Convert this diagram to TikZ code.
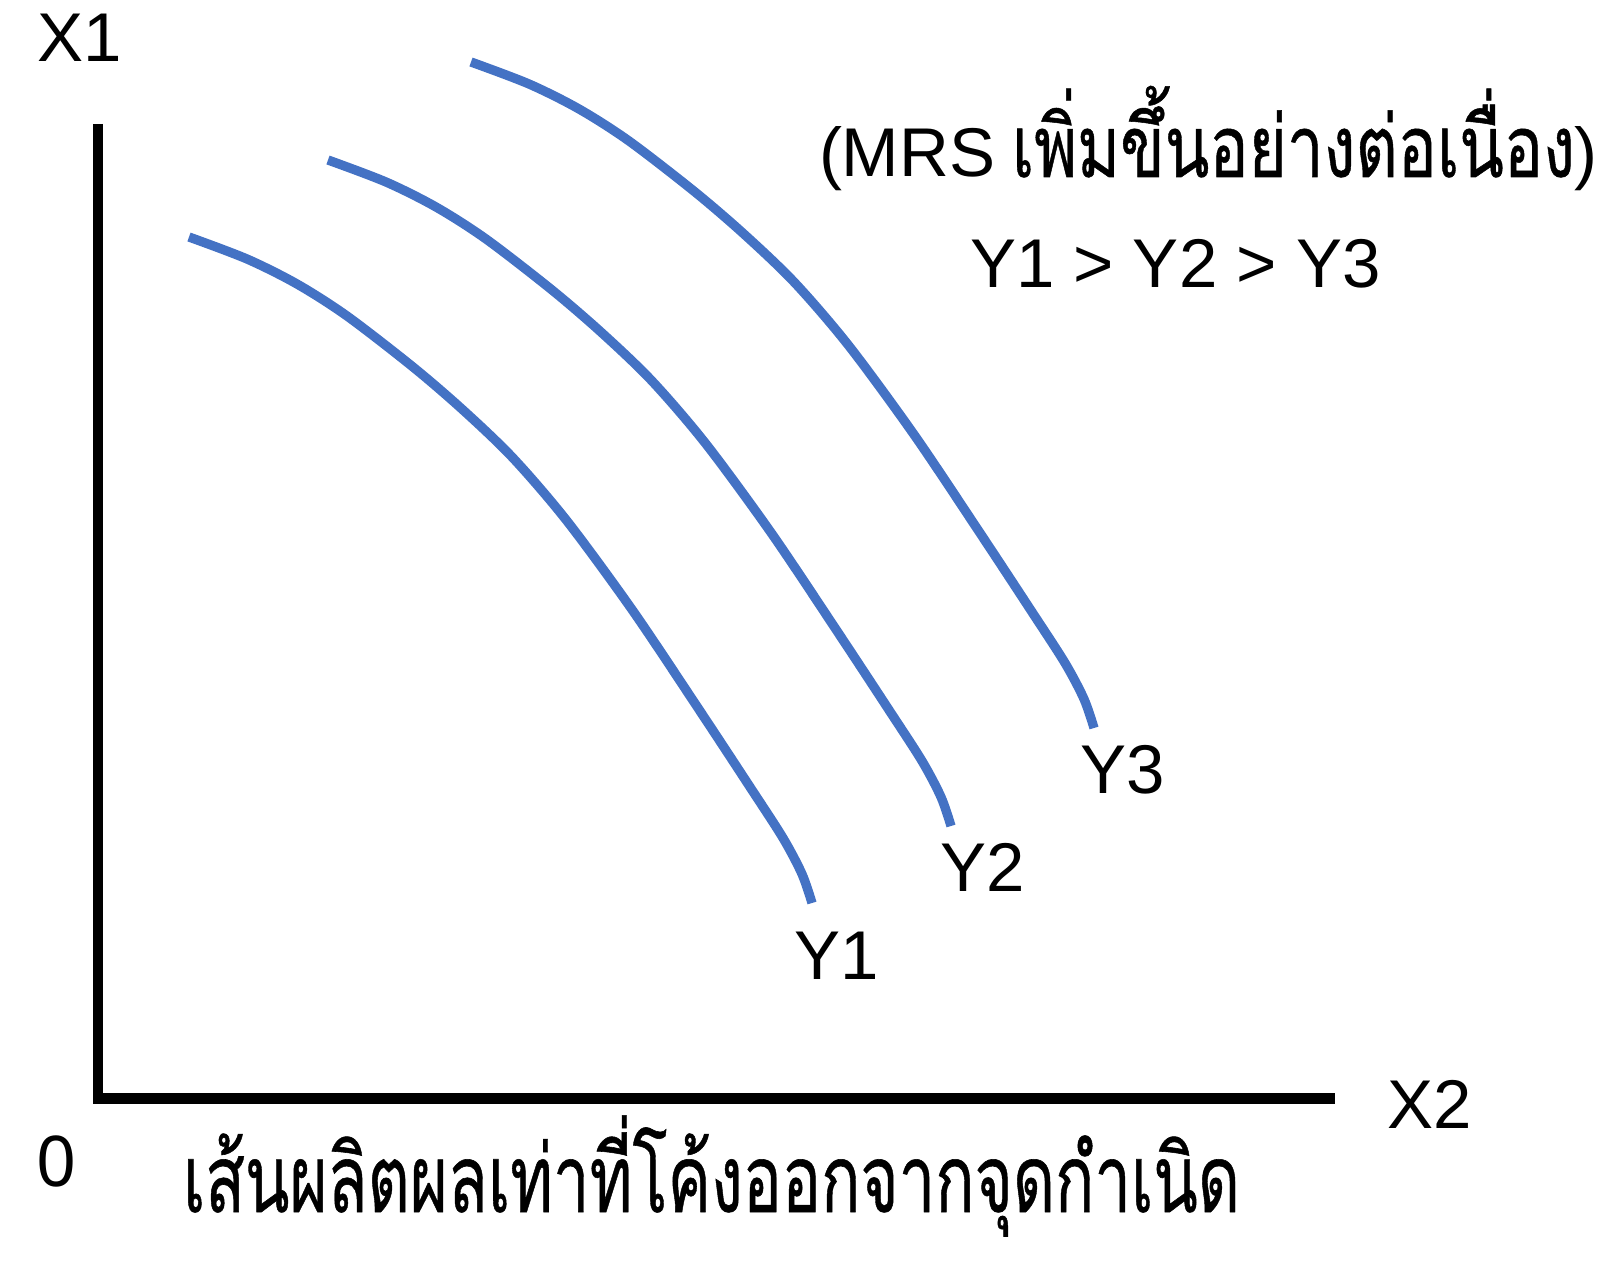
\documentclass[tikz,border=0pt]{standalone}
\usepackage{fontspec}
\usepackage{graphicx}
\setmainfont{Liberation Sans}
\newfontfamily\thai[Script=Thai,FakeBold=0.6]{Loma}
\newfontfamily\digitfont{Noto Sans}
\definecolor{curveblue}{HTML}{4472C4}
\begin{document}
\begin{tikzpicture}[x=1pt,y=-1pt,
  axisline/.style={line width=10.5pt,black,line join=miter},
  curvestyle/.style={line width=9.3pt,curveblue,line cap=butt},
  lbl/.style={anchor=base west,inner sep=0pt,outer sep=0pt,font=\fontsize{69}{80}\selectfont},
  thailbl/.style={anchor=base west,inner sep=0pt,outer sep=0pt}]
\useasboundingbox (0,0) rectangle (1598,1268);
% axes
\coordinate (top) at (98,124);
\coordinate (origin) at (98,1098.5);
\coordinate (right) at (1335,1098.5);
\draw[axisline] (top) -- (origin) -- (right);
% curves (same shape, shifted)
\draw[curvestyle] plot[smooth] coordinates {(189,237) (247,259) (297,284) (347,316) (413,367) (463,410) (513,458) (567,521) (633,611) (700,711) (750,787) (783,838) (802,874) (812,903)};
\begin{scope}[shift={(139,-77)}]
\draw[curvestyle] plot[smooth] coordinates {(189,237) (247,259) (297,284) (347,316) (413,367) (463,410) (513,458) (567,521) (633,611) (700,711) (750,787) (783,838) (802,874) (812,903)};
\end{scope}
\begin{scope}[shift={(282,-175)}]
\draw[curvestyle] plot[smooth] coordinates {(189,237) (247,259) (297,284) (347,316) (413,367) (463,410) (513,458) (567,521) (633,611) (700,711) (750,787) (783,838) (802,874) (812,903)};
\end{scope}
% labels
\node[lbl] (x1) at (37,61.7) {X1};
\node[lbl] (x2) at (1387,1128) {X2};
\node[lbl,font=\digitfont\fontsize{70}{80}\selectfont] (zero) at (36,1186) {0};
\node[lbl] (y1) at (794,979) {Y1};
\node[lbl] (y2) at (940,891.7) {Y2};
\node[lbl] (y3) at (1080,793) {Y3};
\node[lbl] (order) at (970,287) {Y1 > Y2 > Y3};
\node[lbl] (mrs) at (819,177) {(MRS\hspace{0.24em}\resizebox{563pt}{\height}{\thai\fontsize{86}{100}\selectfont เพิ่มขึ้นอย่างต่อเนื่อง})};
\node[thailbl] (caption) at (183,1212) {\resizebox{1057pt}{\height}{\thai\fontsize{94}{110}\selectfont เส้นผลิตผลเท่าที่โค้งออกจากจุดกำเนิด}};
\end{tikzpicture}
\end{document}
